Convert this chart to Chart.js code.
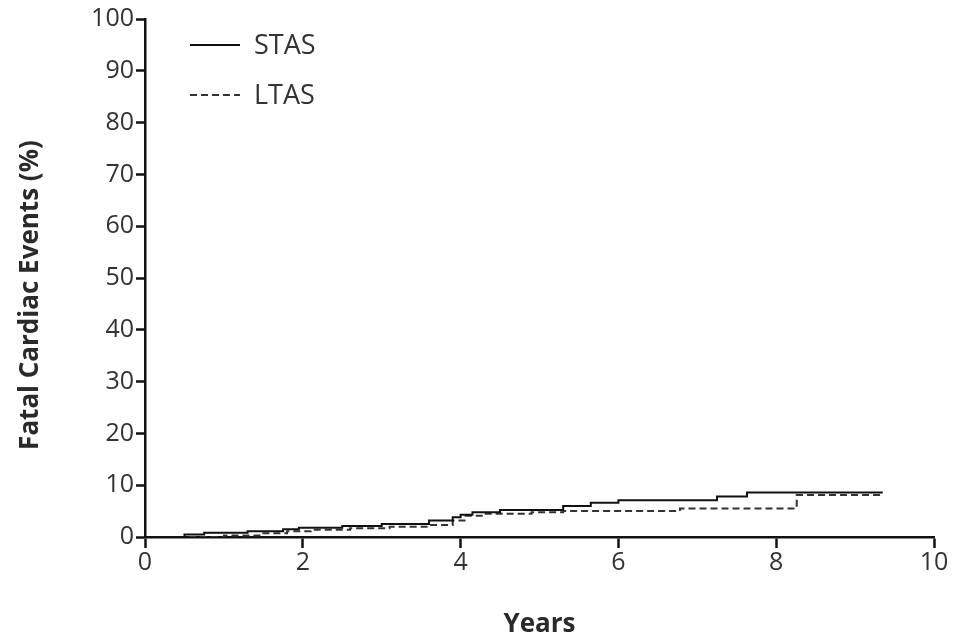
<!DOCTYPE html>
<html>
<head>
<meta charset="utf-8">
<script src="https://cdn.jsdelivr.net/npm/chart.js@4.4.1/dist/chart.umd.min.js"></script>
<style>
  html, body { margin: 0; padding: 0; background: #fff; }
  #wrap { width: 955px; height: 640px; }
</style>
</head>
<body>
<div id="wrap"><canvas id="chart" width="955" height="640"></canvas></div>
<script>
// Kaplan-Meier style cumulative curves (years, %)
const stasYears = [0, 0.5, 0.75, 1.3, 1.75, 1.95, 2.5, 3.0, 3.6, 3.9, 4.0, 4.15, 4.5, 5.3, 5.65, 6.0, 7.25, 7.63, 9.35];
const stasPct   = [0, 0.5, 0.8, 1.1, 1.5, 1.8, 2.1, 2.5, 3.2, 3.8, 4.3, 4.8, 5.2, 6.0, 6.6, 7.1, 7.8, 8.6, 8.6];
const ltasYears = [0, 1.0, 1.5, 1.8, 2.1, 2.6, 3.1, 3.6, 3.9, 4.05, 4.3, 4.9, 5.3, 6.78, 8.26, 9.35];
const ltasPct   = [0, 0.3, 0.7, 1.1, 1.4, 1.7, 2.0, 2.3, 3.2, 4.1, 4.5, 4.8, 5.0, 5.5, 8.1, 8.1];
const seriesNames = ["STAS", "LTAS"];
const xTicks = [0, 2, 4, 6, 8, 10];
const yTicks = [0, 10, 20, 30, 40, 50, 60, 70, 80, 90, 100];
const yTitle = "Fatal Cardiac Events (%)";

const toPoints = (xs, ys) => xs.map((x, i) => ({ x: x, y: ys[i] }));

const fontFamily = "'Open Sans', 'Noto Sans', sans-serif";
const tickColor = "#333";

// legend lines in the upper left of the plot, plus the y axis title
const lineLegend = {
    id: "lineLegend",
    afterDraw(chart) {
        const ctx = chart.ctx;
        const area = chart.chartArea;
        const left = area.left + 45;
        chart.data.datasets.forEach((ds, i) => {
            const y = area.top + 26 + i * 50;
            ctx.save();
            ctx.strokeStyle = ds.borderColor;
            ctx.lineWidth = 2;
            ctx.setLineDash(ds.borderDash || []);
            ctx.beginPath();
            ctx.moveTo(left, y);
            ctx.lineTo(left + 50, y);
            ctx.stroke();
            ctx.setLineDash([]);
            ctx.fillStyle = tickColor;
            ctx.font = "27px " + fontFamily;
            ctx.textBaseline = "middle";
            ctx.fillText(ds.label, left + 64, y + 1);
            ctx.restore();
        });

        // y title sits a bit below the middle of the axis in the original
        ctx.save();
        ctx.translate(31, (area.top + area.bottom) / 2 + 17);
        ctx.rotate(-Math.PI / 2);
        ctx.fillStyle = "#2a2a2a";
        ctx.font = "bold 26px " + fontFamily;
        ctx.textAlign = "center";
        ctx.textBaseline = "middle";
        ctx.fillText(yTitle, 0, 0);
        ctx.restore();
    }
};

new Chart(document.getElementById("chart"), {
    type: "scatter",
    data: {
        datasets: [
            {
                label: seriesNames[0],
                data: toPoints(stasYears, stasPct),
                showLine: true,
                stepped: true,
                borderColor: "#111",
                borderWidth: 2,
                pointRadius: 0
            },
            {
                label: seriesNames[1],
                data: toPoints(ltasYears, ltasPct),
                showLine: true,
                stepped: true,
                borderColor: "#333",
                borderDash: [7, 4],
                borderWidth: 2,
                pointRadius: 0
            }
        ]
    },
    options: {
        responsive: false,
        animation: false,
        layout: { padding: { top: 19, right: 21, left: 0, bottom: 0 } },
        plugins: {
            legend: { display: false },
            tooltip: { enabled: false }
        },
        scales: {
            x: {
                type: "linear",
                min: 0,
                max: 10,
                afterBuildTicks: (axis) => { axis.ticks = xTicks.map(v => ({ value: v })); },
                afterFit: (axis) => { axis.height = 103; },
                grid: { drawOnChartArea: false, tickLength: 11, color: "#111", tickWidth: 2.5 },
                border: { color: "#111", width: 2.5 },
                ticks: { color: tickColor, font: { size: 25, family: fontFamily }, padding: 0 },
                title: {
                    display: true,
                    text: "Years",
                    color: "#2a2a2a",
                    font: { size: 26, weight: "bold", family: fontFamily },
                    padding: { top: 0, bottom: 0 }
                }
            },
            y: {
                min: 0,
                max: 100,
                afterBuildTicks: (axis) => { axis.ticks = yTicks.map(v => ({ value: v })); },
                afterFit: (axis) => { axis.width = 145; },
                grid: { drawOnChartArea: false, tickLength: 9, color: "#111", tickWidth: 2.5 },
                border: { color: "#111", width: 2.5 },
                ticks: { color: tickColor, font: { size: 25, family: fontFamily }, padding: 2 },
                title: { display: false }
            }
        }
    },
    plugins: [lineLegend]
});
</script>
</body>
</html>
